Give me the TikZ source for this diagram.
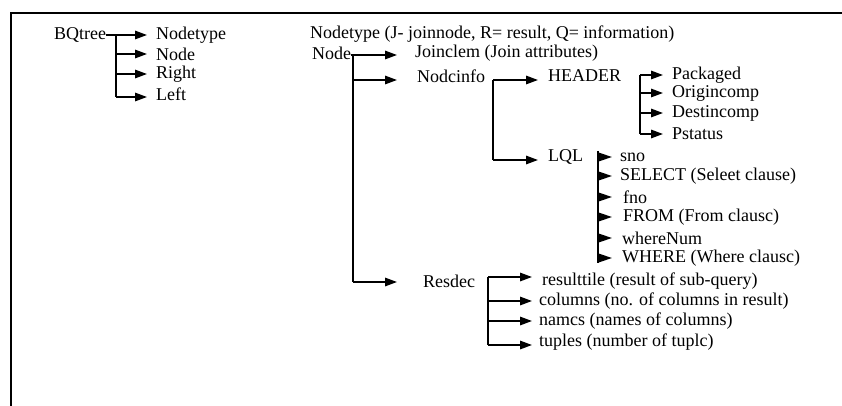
\documentclass[tikz,border=0pt]{standalone}
\usepackage{fontspec}
\setmainfont{Liberation Serif}
\usetikzlibrary{arrows.meta}
\begin{document}
\begin{tikzpicture}[x=1pt,y=-1pt,
  txt/.style={anchor=west,inner sep=0pt,font=\fontsize{18}{20}\selectfont},
  bus/.style={line width=1.5pt},
  arr/.style={line width=1.5pt,-{Triangle[length=12pt,width=8.5pt]}},
  head/.style={line width=1.5pt,-{Triangle[length=14pt,width=9pt]}},
  frame/.style={line width=1.5pt}]
\useasboundingbox (0,0) rectangle (842,406);
% frame
\coordinate (ftl) at (11,13);
\coordinate (ftr) at (842,13);
\coordinate (fbl) at (11,406);
\draw[frame] (ftr) -- (ftl) -- (fbl);

% BQtree
\node[txt] (bq) at (54,35) {BQtree};
\node[txt] (bq1) at (156,35) {Nodetype};
\node[txt] (bq2) at (156,54) {Node};
\node[txt] (bq3) at (156,74) {Right};
\node[txt] (bq4) at (156,94) {Left};
\coordinate (bqt) at (116,35);
\coordinate (bqb) at (116,97);
\draw[bus] (bq.east) -- (bqt) -- (bqb);
\draw[arr] (bqt) -- ([xshift=-9pt]bq1.west |- bqt);
\draw[arr] (bqt |- bq2) -- ([xshift=-9pt]bq2.west);
\draw[arr] (bqt |- bq3) -- ([xshift=-9pt]bq3.west);
\draw[arr] (bqb) -- ([xshift=-9pt]bq4.west |- bqb);

% Title and Node
\node[txt] (title) at (310,34) {Nodetype (J- joinnode, R= result, Q= information)};
\node[txt] (nd) at (312,53) {Node};
\node[txt] (join) at (415,53) {Joinclem (Join attributes)};
\node[txt] (ninfo) at (417,76) {Nodcinfo};
\node[txt] (res) at (423,281) {Resdec};
\coordinate (ndt) at (353,55);
\coordinate (ndm) at (353,80);
\coordinate (ndb) at (353,282);
\draw[bus] (nd.east |- ndt) -- (ndt) -- (ndb);
\draw[arr] (ndt) -- ([xshift=-18pt]join.west |- ndt);
\draw[arr] (ndm) -- ([xshift=-20pt]ninfo.west |- ndm);
\draw[arr] (ndb) -- ([xshift=-26pt]res.west |- ndb);

% Nodcinfo
\node[txt] (hdr) at (548,76) {HEADER};
\node[txt] (lql) at (548,157) {LQL};
\coordinate (nit) at (493,80);
\coordinate (nib) at (493,160);
\draw[bus] (nit) -- (nib);
\draw[arr] (nit) -- ([xshift=-10pt]hdr.west |- nit);
\draw[arr] (nib) -- ([xshift=-10pt]lql.west |- nib);

% HEADER
\node[txt] (h1) at (672,75) {Packaged};
\node[txt] (h2) at (672,93) {Origincomp};
\node[txt] (h3) at (672,113) {Destincomp};
\node[txt] (h4) at (672,134) {Pstatus};
\coordinate (hbt) at (640,75);
\coordinate (hbb) at (640,134);
\draw[bus] (hbt) -- (hbb);
\draw[arr] (hbt) -- ([xshift=-9pt]h1.west);
\draw[arr] (hbt |- h2) -- ([xshift=-9pt]h2.west);
\draw[arr] (hbt |- h3) -- ([xshift=-9pt]h3.west);
\draw[arr] (hbb) -- ([xshift=-9pt]h4.west);

% LQL
\node[txt] (l1) at (620,157) {sno};
\node[txt] (l2) at (620,176) {SELECT (Seleet clause)};
\node[txt] (l3) at (623,197) {fno};
\node[txt] (l4) at (623,217) {FROM (From clausc)};
\node[txt] (l5) at (622,238) {whereNum};
\node[txt] (l6) at (622,258) {WHERE (Where clausc)};
\coordinate (lbt) at (598,151);
\coordinate (lbb) at (598,263);
\draw[bus] (lbt) -- (lbb);
\draw[head] (lbt |- l1) -- ([xshift=-8pt]l1.west);
\draw[head] (lbt |- l2) -- ([xshift=-8pt]l2.west);
\draw[head] (lbt |- l3) -- ([xshift=-11pt]l3.west);
\draw[head] (lbt |- l4) -- ([xshift=-11pt]l4.west);
\draw[head] (lbt |- l5) -- ([xshift=-10pt]l5.west);
\draw[head] (lbt |- l6) -- ([xshift=-10pt]l6.west);

% Resdec
\node[txt] (r1) at (542,281) {resulttile (result of sub-query)};
\node[txt] (r2) at (539,301) {columns (no. of columns in result)};
\node[txt] (r3) at (539,321) {namcs (names of columns)};
\node[txt] (r4) at (539,342) {tuples (number of tuplc)};
\coordinate (rbt) at (488,277);
\coordinate (rbb) at (488,345);
\draw[bus] (rbt) -- (rbb);
\draw[arr] (rbt) -- ([xshift=-10pt]r1.west |- rbt);
\draw[arr] (rbt |- r2) -- ([xshift=-7pt]r2.west);
\draw[arr] (rbt |- r3) -- ([xshift=-7pt]r3.west);
\draw[arr] (rbb) -- ([xshift=-7pt]r4.west |- rbb);
\end{tikzpicture}
\end{document}
